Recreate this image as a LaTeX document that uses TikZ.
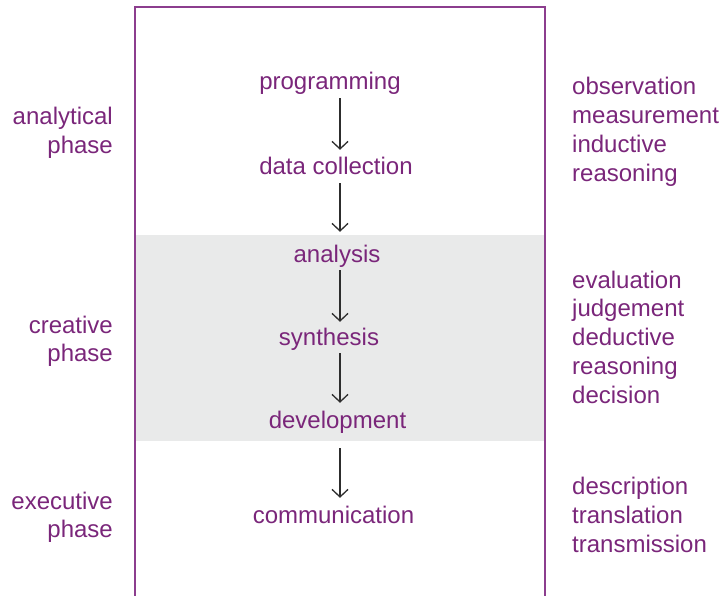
\documentclass[tikz,border=0pt]{standalone}
\usepackage{fontspec}
\setmainfont{Liberation Sans}
\usetikzlibrary{arrows.meta,positioning}
\definecolor{phasepurple}{RGB}{122,38,122}
\definecolor{framepurple}{RGB}{140,62,142}
\definecolor{bandgray}{RGB}{233,234,234}
\definecolor{arrowgray}{RGB}{45,45,45}

\begin{document}
\begin{tikzpicture}[x=1pt, y=-1pt, every node/.style={font=\fontsize{24}{28.7}\selectfont, text=phasepurple, inner sep=0pt},
	stage/.style={anchor=base, text height=17pt, text depth=5pt, inner ysep=3pt},
	phase/.style={anchor=base east, align=right},
	traits/.style={anchor=base west, align=left},
	flow/.style={-{Straight Barb[length=7.5pt,width=16pt]}, line width=1.3pt, arrowgray, shorten >=5pt}]
	\useasboundingbox (0,0) rectangle (719,596);
	\fill[bandgray] (135,235) rectangle (545,441);
	\draw[framepurple, line width=1.5pt] (135,596) -- (135,7) -- (545,7) -- (545,596);
	\coordinate (axis) at (340,0);
	
	% stages
	\node[stage] (prog) at (330,90) {programming};
	\node[stage] (data) at (336,175) {data collection};
	\node[stage] (anal) at (337,262) {analysis};
	\node[stage] (synt) at (329,345) {synthesis};
	\node[stage] (devel) at (337.5,428) {development};
	\node[stage] (comm) at (333.5,523) {communication};
	
	\draw[flow] (prog.south -| axis) -- (data.north -| axis);
	\draw[flow, shorten >=10pt] (data.south -| axis) -- (anal.north -| axis);
	\draw[flow, shorten >=3pt] (anal.south -| axis) -- (synt.north -| axis);
	\draw[flow] (synt.south -| axis) -- (devel.north -| axis);
	\draw[flow, shorten <=12pt] (devel.south -| axis) -- (comm.north -| axis);
	
	% phases (anchored at the last line)
	\node[phase] (analph) at (113,153.7) {analytical\\phase};
	\node[phase] (creaph) at (113,361.7) {creative\\phase};
	\node[phase] (execph) at (113,537.7) {executive\\phase};
	
	% traits
	\node[traits] (obs) at (572,181) {observation\\measurement\\inductive\\reasoning};
	\node[traits] (eval) at (572,403) {evaluation\\judgement\\deductive\\reasoning\\decision};
	\node[traits] (desc) at (572,552) {description\\translation\\transmission};
\end{tikzpicture}
\end{document}
